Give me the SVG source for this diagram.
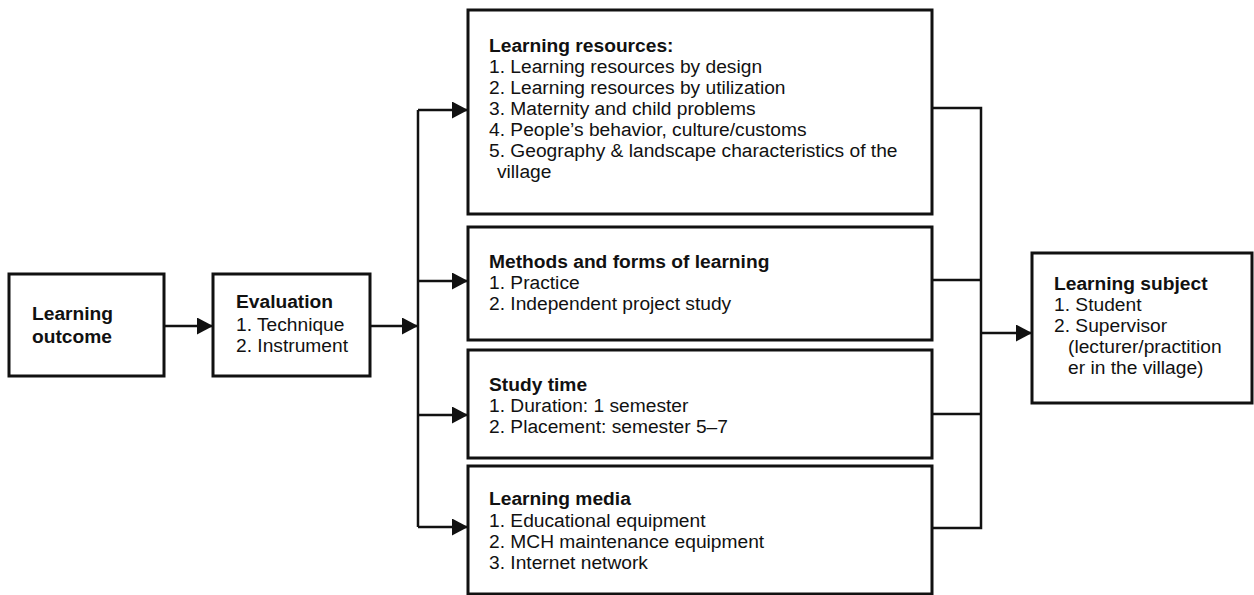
<svg xmlns="http://www.w3.org/2000/svg" width="1254" height="595" viewBox="0 0 1254 595">
<defs>
<style>
.box{fill:#fff;stroke:#111;stroke-width:3}
.t{font-family:"Liberation Sans",Arial,sans-serif;font-size:19.2px;fill:#111}
.b{font-weight:bold}
.c{fill:none;stroke:#111;stroke-width:2.5}
</style>
<marker id="arr" markerUnits="userSpaceOnUse" markerWidth="18" markerHeight="18" refX="16" refY="8.5" orient="auto">
<path d="M0,0 L16,8.5 L0,17 z" fill="#111"/>
</marker>
</defs>
<rect width="1254" height="595" fill="#fff"/>
<g id="connectors">
<line class="c" x1="164" y1="326" x2="213" y2="326" marker-end="url(#arr)"/>
<line class="c" x1="370" y1="326" x2="418" y2="326" marker-end="url(#arr)"/>
<path class="c" d="M418,110 V527"/>
<line class="c" x1="418" y1="110" x2="468" y2="110" marker-end="url(#arr)"/>
<line class="c" x1="418" y1="281" x2="468" y2="281" marker-end="url(#arr)"/>
<line class="c" x1="418" y1="415" x2="468" y2="415" marker-end="url(#arr)"/>
<line class="c" x1="418" y1="527" x2="468" y2="527" marker-end="url(#arr)"/>
<path class="c" d="M932,108 H981 V528 H932"/>
<path class="c" d="M932,280 H981"/>
<path class="c" d="M932,414 H981"/>
<line class="c" x1="981" y1="333" x2="1032" y2="333" marker-end="url(#arr)"/>
</g>
<g id="learning-outcome">
<rect class="box" x="9" y="274" width="155" height="102"/>
<text class="t b" x="32" y="320">Learning</text>
<text class="t b" x="32" y="343">outcome</text>
</g>
<g id="evaluation">
<rect class="box" x="213" y="274" width="157" height="102"/>
<text class="t b" x="236" y="308">Evaluation</text>
<text class="t" x="236" y="331">1. Technique</text>
<text class="t" x="236" y="352">2. Instrument</text>
</g>
<g id="learning-resources">
<rect class="box" x="468" y="10" width="464" height="204"/>
<text class="t b" x="489" y="52">Learning resources:</text>
<text class="t" x="489" y="73">1. Learning resources by design</text>
<text class="t" x="489" y="94">2. Learning resources by utilization</text>
<text class="t" x="489" y="115">3. Maternity and child problems</text>
<text class="t" x="489" y="136">4. People’s behavior, culture/customs</text>
<text class="t" x="489" y="157">5. Geography &amp; landscape characteristics of the</text>
<text class="t" x="497" y="178">village</text>
</g>
<g id="methods">
<rect class="box" x="468" y="227" width="464" height="113"/>
<text class="t b" x="489" y="268">Methods and forms of learning</text>
<text class="t" x="489" y="289">1. Practice</text>
<text class="t" x="489" y="310">2. Independent project study</text>
</g>
<g id="study-time">
<rect class="box" x="468" y="350" width="464" height="108"/>
<text class="t b" x="489" y="391">Study time</text>
<text class="t" x="489" y="412">1. Duration: 1 semester</text>
<text class="t" x="489" y="433">2. Placement: semester 5–7</text>
</g>
<g id="learning-media">
<rect class="box" x="468" y="466" width="464" height="128"/>
<text class="t b" x="489" y="505">Learning media</text>
<text class="t" x="489" y="527">1. Educational equipment</text>
<text class="t" x="489" y="548">2. MCH maintenance equipment</text>
<text class="t" x="489" y="569">3. Internet network</text>
</g>
<g id="learning-subject">
<rect class="box" x="1032" y="253" width="220" height="150"/>
<text class="t b" x="1054" y="290">Learning subject</text>
<text class="t" x="1054" y="311">1. Student</text>
<text class="t" x="1054" y="332">2. Supervisor</text>
<text class="t" x="1068" y="353">(lecturer/practition</text>
<text class="t" x="1068" y="374">er in the village)</text>
</g>
</svg>
